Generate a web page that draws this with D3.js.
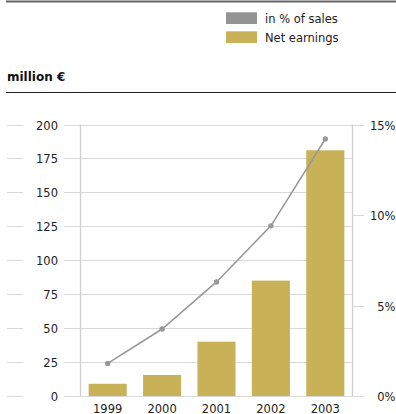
<!DOCTYPE html>
<html>
<head>
<meta charset="utf-8">
<script src="https://cdn.jsdelivr.net/npm/d3@7"></script>
<style>
  html, body { margin: 0; padding: 0; background: #fff; }
  svg { display: block; font-family: "DejaVu Sans", Verdana, sans-serif; }
</style>
</head>
<body>
<svg id="chart" width="396" height="414"></svg>
<script>
// Net earnings (million €) and share of sales (%) per year
const years = ["1999", "2000", "2001", "2002", "2003"];
const netEarnings = [9, 15.5, 40, 85, 181];
const pctOfSales = [1.8, 3.7, 6.3, 9.4, 14.2];
const leftTicks = [0, 25, 50, 75, 100, 125, 150, 175, 200];
const rightTicks = [0, 5, 10, 15];
const legendLabels = ["in % of sales", "Net earnings"];
const unitLabel = "million €";

const colors = { bar: "#c8b157", line: "#999999", swatchLine: "#939393", grid: "#d9d9d9", text: "#222" };

const svg = d3.select("#chart");

const x = d3.scaleBand().domain(years).range([80.5, 352.5]).paddingInner(0.3).paddingOuter(0.15);
const yL = d3.scaleLinear().domain([0, 200]).range([396, 124.5]);
const yR = d3.scaleLinear().domain([0, 15]).range([396, 124.5]);

// header rules
svg.append("line").attr("x1", 6).attr("x2", 396).attr("y1", 1.5).attr("y2", 1.5)
  .attr("stroke", "#666").attr("stroke-width", 2);
svg.append("line").attr("x1", 6).attr("x2", 396).attr("y1", 92.5).attr("y2", 92.5)
  .attr("stroke", "#222").attr("stroke-width", 1);

// legend
const legendColors = [colors.swatchLine, colors.bar];
const lg = svg.append("g");
legendLabels.forEach((t, i) => {
  lg.append("rect").attr("x", 226).attr("y", 12.3 + i * 19).attr("width", 31).attr("height", 11.7)
    .attr("fill", legendColors[i]);
  lg.append("text").attr("x", 265).attr("y", 22.5 + i * 19).attr("font-size", 11.5)
    .attr("fill", colors.text).text(t);
});

svg.append("text").attr("x", 7).attr("y", 81).attr("font-size", 12).attr("font-weight", "bold")
  .attr("fill", "#111").text(unitLabel);

// left axis: outer dashes, labels, gridlines
const gl = svg.append("g");
leftTicks.forEach(v => {
  const yy = Math.round(yL(v)) + 0.5;
  gl.append("line").attr("x1", 7).attr("x2", 23).attr("y1", yy).attr("y2", yy)
    .attr("stroke", colors.grid).attr("stroke-width", 1);
  gl.append("line").attr("x1", 64).attr("x2", 352.5).attr("y1", yy).attr("y2", yy)
    .attr("stroke", colors.grid).attr("stroke-width", 1);
  gl.append("text").attr("x", 58).attr("y", yy).attr("dy", "0.36em").attr("text-anchor", "end")
    .attr("font-size", 11.5).attr("fill", colors.text).text(v);
});

// plot frame verticals
[80.5, 352.5].forEach(xx => {
  svg.append("line").attr("x1", xx).attr("x2", xx).attr("y1", yL(200)).attr("y2", yL(0))
    .attr("stroke", "#d0d0d0").attr("stroke-width", 1.3);
});

// right axis
const gr = svg.append("g");
rightTicks.forEach(v => {
  const yy = Math.round(yR(v)) + 0.5;
  gr.append("line").attr("x1", 352.5).attr("x2", 364).attr("y1", yy).attr("y2", yy)
    .attr("stroke", colors.grid).attr("stroke-width", 1);
  gr.append("text").attr("x", 395.5).attr("y", yy).attr("dy", "0.36em").attr("text-anchor", "end")
    .attr("font-size", 11.5).attr("fill", colors.text).text(v + "%");
});

// bars
svg.append("g").selectAll("rect").data(years).join("rect")
  .attr("x", d => x(d))
  .attr("width", x.bandwidth())
  .attr("y", (d, i) => yL(netEarnings[i]))
  .attr("height", (d, i) => yL(0) - yL(netEarnings[i]))
  .attr("fill", colors.bar);

// x labels
svg.append("g").selectAll("text").data(years).join("text")
  .attr("x", d => x(d) + x.bandwidth() / 2)
  .attr("y", 412.5)
  .attr("text-anchor", "middle")
  .attr("font-size", 11.5)
  .attr("fill", colors.text)
  .text(d => d);

// percentage line
const line = d3.line()
  .x((d, i) => x(years[i]) + x.bandwidth() / 2)
  .y(d => yR(d));
svg.append("path").datum(pctOfSales).attr("d", line)
  .attr("fill", "none").attr("stroke", colors.line).attr("stroke-width", 1.6);
svg.append("g").selectAll("circle").data(pctOfSales).join("circle")
  .attr("cx", (d, i) => x(years[i]) + x.bandwidth() / 2)
  .attr("cy", d => yR(d))
  .attr("r", 2.7)
  .attr("fill", colors.line);
</script>
</body>
</html>
